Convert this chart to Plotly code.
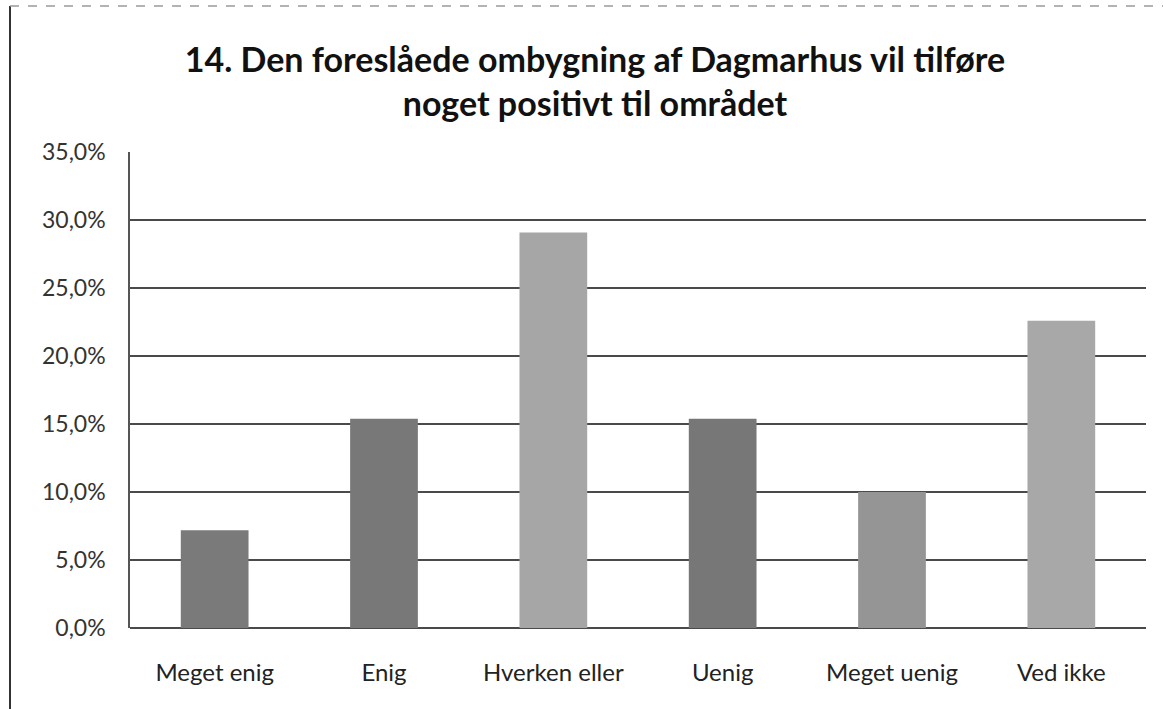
import plotly.graph_objects as go

categories = ["Meget enig", "Enig", "Hverken eller", "Uenig", "Meget uenig", "Ved ikke"]
values = [0.072, 0.154, 0.291, 0.154, 0.100, 0.226]
colors = ["#7a7a7a", "#787878", "#a6a6a6", "#777777", "#959595", "#a8a8a8"]
yticks = [0, 0.05, 0.10, 0.15, 0.20, 0.25, 0.30, 0.35]

title_text = "14. Den foreslåede ombygning af Dagmarhus vil tilføre<br>noget positivt til området"

W, H = 1163, 709
L, R, T, B = 130, 17, 152, 81
pw, ph = W - L - R, H - T - B

fig = go.Figure(go.Bar(x=categories, y=values, marker=dict(color=colors, line=dict(width=0)), width=0.4))

font = "Lato, 'Open Sans', sans-serif"
fig.update_layout(
    width=W, height=H,
    margin=dict(l=L, r=R, t=T, b=B),
    paper_bgcolor="white", plot_bgcolor="white",
    separators=",.",
    showlegend=False,
    title=dict(text=title_text, x=(595 - L) / pw, xref="paper", xanchor="center",
               y=1 - 72 / H, yanchor="middle",
               font=dict(family=font, size=34, color="#111", weight="bold")),
    font=dict(family=font, color="#2a2a2a"),
    bargap=0.6,
)
fig.update_xaxes(showline=False, ticks="", tickfont=dict(size=24, color="#222"),
                 showgrid=False, ticklabelstandoff=28)
fig.update_yaxes(range=[0, 0.3502], tickvals=yticks, tickformat=".1%",
                 showgrid=True, gridcolor="#4a4a4a", gridwidth=1.5,
                 showline=True, linecolor="#555", linewidth=1.5,
                 zeroline=True, zerolinecolor="#4a4a4a", zerolinewidth=1.5,
                 tickfont=dict(size=23, color="#333"), ticks="", ticklabelstandoff=18)

# scanned page frame: left border and faint top border
fig.add_shape(type="line", xref="paper", yref="paper",
              x0=(10 - L) / pw, x1=(10 - L) / pw, y0=-B / ph, y1=(T - 6) / ph + 1,
              line=dict(color="#333", width=2))
fig.add_shape(type="line", xref="paper", yref="paper",
              x0=(10 - L) / pw, x1=(W - L) / pw, y0=1 + (T - 6) / ph, y1=1 + (T - 6) / ph,
              line=dict(color="#9a9a9a", width=1.5, dash="dash"))

fig.write_html("out.html", config={"displayModeBar": False},
               post_script="document.body.style.margin='0';")
